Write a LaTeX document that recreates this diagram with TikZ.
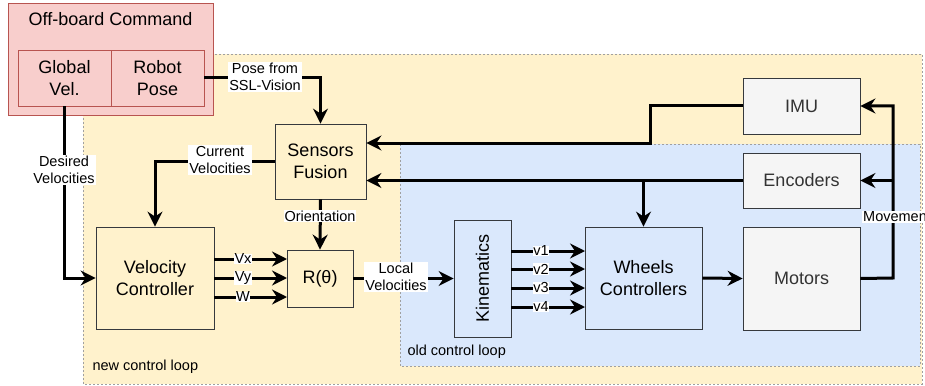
\documentclass[tikz,border=0pt]{standalone}
\usepackage{fontspec}
\setmainfont{Liberation Sans}
\usetikzlibrary{arrows.meta,positioning}
\definecolor{pinkf}{HTML}{F8CECC}
\definecolor{pinkd}{HTML}{B85450}
\definecolor{yelf}{HTML}{FFF2CC}
\definecolor{bluef}{HTML}{DAE8FC}
\definecolor{grayf}{HTML}{F5F5F5}
\definecolor{boxd}{HTML}{36393D}
\definecolor{txtg}{HTML}{333333}
\definecolor{regd}{HTML}{A0A0A0}
\tikzset{
  bigtxt/.style={font=\fontsize{18}{22}\selectfont},
  smalltxt/.style={font=\fontsize{14.5}{17}\selectfont},
  blk/.style={draw=boxd, line width=0.8pt, inner sep=0pt, align=center, bigtxt},
  yblk/.style={blk, fill=yelf},
  bblk/.style={blk, fill=bluef},
  gblk/.style={blk, fill=grayf, text=txtg},
  pblk/.style={draw=pinkd, line width=0.8pt, fill=pinkf, inner sep=0pt, align=center, bigtxt},
  region/.style={draw=regd, line width=0.6pt, dash pattern=on 2pt off 2pt},
  conn/.style={line width=3pt, -{Stealth[length=15pt,width=15pt,inset=5pt]}},
  elabel/.style={fill=white, inner sep=1pt, align=center, smalltxt},
}
\begin{document}
\begin{tikzpicture}[x=1pt,y=-1pt]
\useasboundingbox (0,0) rectangle (925,385);
% regions
\draw[region, fill=yelf] (83,54) rectangle (922,384);
\draw[region, fill=bluef] (400,144) rectangle (920,366);
\node[anchor=west, smalltxt] (newlbl) at (89,367) {new control loop};
\node[anchor=west, smalltxt] (oldlbl) at (404,352) {old control loop};
% off-board
\node[pblk, minimum width=205pt, minimum height=112pt] (off) at (110.5,59) {};
\node[bigtxt] (offt) at (110.5,19) {Off-board Command};
\node[pblk, minimum width=93pt, minimum height=56pt] (gvel) at (64.5,78) {Global\\Vel.};
\node[pblk, minimum width=93pt, minimum height=56pt] (rpose) at (157.5,78) {Robot\\Pose};
% blocks
\node[yblk, minimum width=91pt, minimum height=75pt] (sf) at (320.5,161.5) {Sensors\\Fusion};
\node[yblk, minimum width=118pt, minimum height=102pt] (vc) at (155,278) {Velocity\\Controller};
\node[yblk, minimum width=66pt, minimum height=57pt] (rt) at (320,278.5) {R(θ)};
\node[bblk, minimum width=57pt, minimum height=117pt] (kin) at (482.5,278.5) {\rotatebox{90}{Kinematics}};
\node[bblk, minimum width=117pt, minimum height=102pt] (wc) at (643.5,278) {Wheels\\Controllers};
\node[gblk, minimum width=117pt, minimum height=103pt] (mot) at (801.5,278.5) {Motors};
\node[gblk, minimum width=117pt, minimum height=55pt] (enc) at (801.5,180.5) {Encoders};
\node[gblk, minimum width=117pt, minimum height=56pt] (imu) at (801.5,106) {IMU};
% connectors
\draw[conn] (rpose.east) -- (sf.north |- rpose.east) -- (sf.north);
\node[elabel] (l1) at (265,77) {Pose from\\SSL-Vision};
\draw[conn] (gvel.south) -- (gvel.south |- vc.west) -- (vc.west);
\node[elabel] (l2) at (64,170) {Desired\\Velocities};
\draw[conn] (sf.west) -- (vc.north |- sf.west) -- (vc.north);
\node[elabel] (l3) at (220,160) {Current\\Velocities};
\draw[conn] (sf.south) -- (rt.north);
\node[elabel] (l4) at (320,216) {Orientation};
\foreach \y/\t [count=\i] in {259/Vx,278/Vy,297/W}{
  \coordinate (va\i) at (214,\y);
  \coordinate (vb\i) at (287,\y);
  \draw[conn] (va\i) -- (vb\i);
  \node[elabel, inner sep=0.5pt] (vl\i) at (243,\y) {\t};
}
\draw[conn] (rt.east) -- (kin.west);
\node[elabel] (l5) at (396,277) {Local\\Velocities};
\foreach \y/\t [count=\i] in {251/v1,269/v2,288/v3,307/v4}{
  \coordinate (ka\i) at (511,\y);
  \coordinate (kb\i) at (585,\y);
  \draw[conn] (ka\i) -- (kb\i);
  \node[elabel, inner sep=0.5pt] (kl\i) at (541,\y) {\t};
}
\draw[conn] (wc.east) -- (mot.west);
\coordinate (mv) at (893,278);
\draw[conn] (mot.east) -- (mv) -- (mv |- imu.east) -- (imu.east);
\draw[conn] (mv |- enc.east) -- (enc.east);
\node[elabel, anchor=west, inner sep=1pt] (l6) at (862,217) {Movement};
\coordinate (ib) at (650,143);
\draw[conn] (imu.west) -- (ib |- imu.west) -- (ib) -- (sf.east |- ib);
\draw[conn] (enc.west) -- (sf.east |- enc.west);
\draw[conn] (wc.north |- enc.west) -- (wc.north);
\end{tikzpicture}
\end{document}
